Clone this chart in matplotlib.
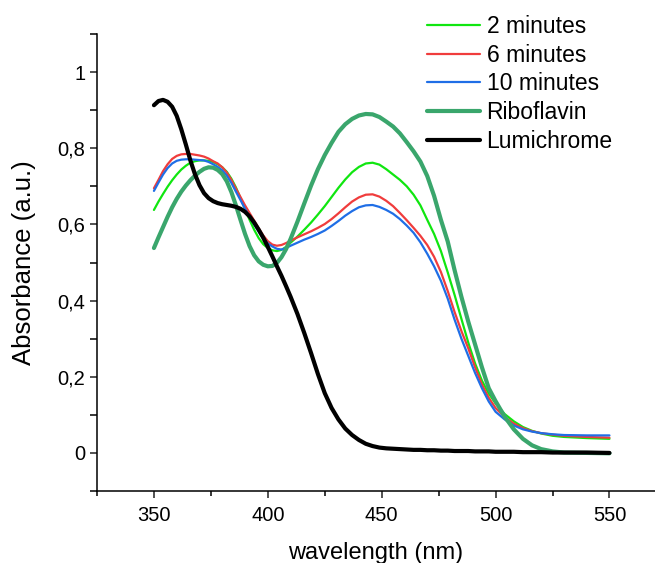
"""UV-vis absorbance spectra: riboflavin photodegradation vs lumichrome."""
import matplotlib
matplotlib.use("Agg")
import matplotlib.pyplot as plt
from matplotlib.ticker import FuncFormatter, MultipleLocator

wavelength = [350, 352, 354, 356, 358, 360, 362, 364, 366, 368, 370, 372, 374, 376, 378,
              380, 382, 384, 386, 388, 390, 392, 394, 396, 398, 400, 402, 404, 406, 408,
              410, 413, 416, 419, 422, 425, 428, 431, 434, 437, 440, 443, 446, 449, 452,
              455, 458, 461, 464, 467, 470, 473, 476, 479, 482, 485, 488, 491, 494, 497,
              500, 504, 508, 512, 516, 520, 525, 530, 540, 550]

min2 = [0.638, 0.660, 0.680, 0.699, 0.716, 0.731, 0.744, 0.754, 0.762, 0.766, 0.768,
        0.768, 0.767, 0.764, 0.758, 0.750, 0.738, 0.720, 0.697, 0.669, 0.640, 0.612,
        0.586, 0.564, 0.548, 0.538, 0.532, 0.530, 0.533, 0.541, 0.552, 0.568, 0.586,
        0.605, 0.626, 0.648, 0.672, 0.696, 0.718, 0.737, 0.751, 0.760, 0.762, 0.757,
        0.745, 0.731, 0.717, 0.700, 0.678, 0.650, 0.612, 0.575, 0.530, 0.474, 0.415,
        0.352, 0.290, 0.235, 0.190, 0.156, 0.130, 0.102, 0.083, 0.068, 0.058, 0.051,
        0.045, 0.042, 0.039, 0.037]
min6 = [0.695, 0.717, 0.740, 0.758, 0.772, 0.780, 0.784, 0.785, 0.785, 0.783, 0.781,
        0.778, 0.773, 0.766, 0.760, 0.750, 0.736, 0.717, 0.694, 0.672, 0.650, 0.630,
        0.610, 0.590, 0.571, 0.556, 0.547, 0.544, 0.546, 0.551, 0.557, 0.566, 0.574,
        0.582, 0.591, 0.601, 0.614, 0.629, 0.645, 0.660, 0.671, 0.678, 0.679, 0.673,
        0.662, 0.648, 0.630, 0.611, 0.591, 0.570, 0.546, 0.515, 0.475, 0.425, 0.370,
        0.320, 0.275, 0.225, 0.180, 0.145, 0.118, 0.094, 0.077, 0.065, 0.057, 0.052,
        0.048, 0.045, 0.042, 0.040]
min10 = [0.688, 0.710, 0.731, 0.748, 0.760, 0.767, 0.770, 0.771, 0.771, 0.770, 0.769,
         0.768, 0.764, 0.758, 0.751, 0.742, 0.728, 0.709, 0.686, 0.664, 0.641, 0.620,
         0.600, 0.581, 0.563, 0.550, 0.542, 0.536, 0.534, 0.538, 0.544, 0.552, 0.560,
         0.567, 0.575, 0.584, 0.596, 0.609, 0.623, 0.635, 0.645, 0.650, 0.651, 0.646,
         0.638, 0.628, 0.614, 0.597, 0.578, 0.553, 0.523, 0.490, 0.452, 0.405, 0.350,
         0.300, 0.255, 0.210, 0.170, 0.135, 0.108, 0.088, 0.072, 0.062, 0.056, 0.052,
         0.049, 0.047, 0.046, 0.046]
riboflavin = [0.538, 0.566, 0.593, 0.620, 0.645, 0.667, 0.686, 0.702, 0.716, 0.728, 0.738,
              0.746, 0.750, 0.749, 0.743, 0.732, 0.713, 0.685, 0.650, 0.612, 0.575, 0.543,
              0.519, 0.503, 0.494, 0.490, 0.491, 0.499, 0.514, 0.535, 0.562, 0.607, 0.655,
              0.702, 0.745, 0.782, 0.814, 0.843, 0.863, 0.877, 0.886, 0.890, 0.889, 0.882,
              0.870, 0.857, 0.839, 0.816, 0.792, 0.765, 0.727, 0.675, 0.612, 0.555, 0.480,
              0.410, 0.345, 0.285, 0.225, 0.170, 0.136, 0.095, 0.062, 0.037, 0.020, 0.010,
              0.004, 0.001, 0.000, -0.001]
lumichrome = [0.913, 0.924, 0.927, 0.922, 0.909, 0.885, 0.850, 0.810, 0.768, 0.732, 0.703,
              0.682, 0.669, 0.661, 0.656, 0.653, 0.651, 0.649, 0.646, 0.641, 0.633, 0.621,
              0.605, 0.586, 0.565, 0.541, 0.516, 0.490, 0.465, 0.438, 0.410, 0.365, 0.315,
              0.262, 0.207, 0.157, 0.118, 0.088, 0.064, 0.047, 0.034, 0.024, 0.018, 0.014,
              0.012, 0.011, 0.010, 0.009, 0.008, 0.008, 0.007, 0.007, 0.006, 0.006, 0.005,
              0.005, 0.005, 0.004, 0.004, 0.004, 0.003, 0.003, 0.003, 0.002, 0.002, 0.002,
              0.001, 0.001, 0.001, 0.000]

series = [("2 minutes", min2, "#10e610", 1.6),
          ("6 minutes", min6, "#f03c3c", 1.6),
          ("10 minutes", min10, "#1f6ee6", 1.6),
          ("Riboflavin", riboflavin, "#3aa66c", 3.0),
          ("Lumichrome", lumichrome, "#000000", 3.0)]

plt.rcParams["font.family"] = ["Liberation Sans", "DejaVu Sans"]

fig = plt.figure(figsize=(6.55, 5.63), dpi=100)
ax = fig.add_axes([97 / 655, 1 - 491 / 563, 1 - 97 / 655, (491 - 34) / 563])

for label, vals, color, lw in series:
    ax.plot(wavelength, vals, color=color, lw=lw, label=label,
            solid_capstyle="round", solid_joinstyle="round")

ax.set_xlim(325, 570)
ax.set_ylim(-0.1, 1.1)
ax.xaxis.set_major_locator(MultipleLocator(50))
ax.xaxis.set_minor_locator(MultipleLocator(25))
ax.yaxis.set_major_locator(MultipleLocator(0.2))
ax.yaxis.set_minor_locator(MultipleLocator(0.1))
ax.yaxis.set_major_formatter(FuncFormatter(lambda v, p: f"{v:g}".replace(".", ",")))

for s in ("top", "right"):
    ax.spines[s].set_visible(False)
for s in ("left", "bottom"):
    ax.spines[s].set_linewidth(1.1)

ax.tick_params(axis="both", which="major", direction="out", length=5, width=1.1,
               labelsize=14.5, color="#222222")
ax.tick_params(axis="x", which="major", pad=6)
ax.tick_params(axis="x", which="minor", direction="out", length=3.5, width=1.1)
ax.tick_params(axis="y", which="minor", direction="out", length=5, width=1.1)

ax.set_xlabel("wavelength (nm)", fontsize=17, labelpad=12)
ax.set_ylabel("Absorbance (a.u.)", fontsize=18.5, labelpad=15)

ax.legend(loc="upper left", bbox_to_anchor=(427 / 655, 1 - 15 / 563),
          bbox_transform=fig.transFigure, frameon=False, fontsize=16.5,
          handlelength=2.3, handletextpad=0.3, labelspacing=0.25,
          borderpad=0, borderaxespad=0)

fig.savefig("out.png", dpi=100)
